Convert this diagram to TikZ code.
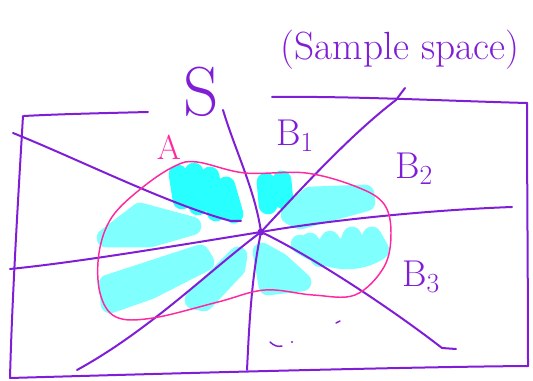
\documentclass[tikz,border=0pt]{standalone}
\usetikzlibrary{calc}
\definecolor{pen}{RGB}{128,30,215}
\definecolor{pinkpen}{RGB}{255,40,160}
\definecolor{hl}{RGB}{128,255,255}
\definecolor{hld}{RGB}{40,255,255}
\tikzset{
  penline/.style={draw=pen,line width=1.5pt,line cap=round,line join=round},
  pinkline/.style={draw=pinkpen,line width=1.1pt,line cap=round},
  blob/.style={draw=hl,fill=hl,line width=14pt,line cap=round,line join=round},
  blobs/.style={draw=hl,line width=14pt,line cap=round,line join=round},
  lbl/.style={text=pen,inner sep=0pt,font=\fontsize{28}{30}\selectfont},
}
\begin{document}
\begin{tikzpicture}[x=0.75pt,y=-0.75pt]
\useasboundingbox (0,0) rectangle (533,381);
% highlighter blobs
\draw[blobs,draw=hld] (178,174) -- (182,200) -- (194,172) -- (198,206) -- (210,176) -- (216,212) -- (226,186) -- (234,214) -- (222,206) -- (190,196);
\draw[blobs,draw=hld] (266,182) -- (268,205) -- (282,180) -- (284,200);
\draw[blob] (290,215) -- (310,196) -- (365,194) -- (366,202) -- (300,220) -- cycle;
\draw[blobs] (300,244) .. controls (330,264) and (360,264) .. (380,250) -- (372,236) -- (362,258) -- (352,236) -- (342,260) -- (330,240) -- (320,258) -- (310,242);
\draw[blob] (262,252) -- (268,286) -- (302,282) -- (280,262) -- cycle;
\draw[blob] (194,300) -- (238,256) -- (236,268) -- (204,302) -- cycle;
\draw[blob] (108,284) -- (200,254) -- (205,262) -- (150,290) -- (110,304) -- cycle;
\draw[blob] (106,238) -- (140,212) -- (192,226) -- (150,238) -- cycle;
% sample space frame
\draw[penline] (24,116) .. controls (60,114) and (110,113) .. (148,112);
\draw[penline] (23,116) .. controls (18,200) and (12,300) .. (10,378);
\draw[penline] (10,378) .. controls (150,374) and (400,367) .. (528,366);
\draw[penline] (528,366) .. controls (528,280) and (527,180) .. (527,103);
\draw[penline] (272,97) .. controls (350,96) and (450,101) .. (527,103);
% partition lines
\coordinate (c) at (261,232);
\coordinate (e1) at (13,133);
\coordinate (e2) at (223,110);
\coordinate (e3) at (405,88);
\coordinate (e4) at (512,207);
\coordinate (e5) at (456,349);
\coordinate (e6) at (247,370);
\coordinate (e7) at (77,370);
\coordinate (e8) at (10,269);
\draw[penline] (e1) .. controls (80,160) and (170,205) .. (231,221) -- (241,221);
\draw[penline] (e2) .. controls (235,150) and (255,190) .. (c);
\draw[penline] (e3) -- (396,100) .. controls (350,135) and (300,190) .. (c);
\draw[penline] (c) .. controls (330,220) and (430,210) .. (e4);
\draw[penline] (c) .. controls (300,250) and (380,300) .. (442,348) -- (e5);
\draw[penline] (c) .. controls (251,280) and (249,330) .. (e6);
\draw[penline] (c) .. controls (210,270) and (150,330) .. (e7);
\draw[penline] (c) .. controls (180,245) and (80,262) .. (e8);
\fill[pen] (c) circle (3.5);
% event A
\draw[pinkline] plot[smooth cycle,tension=0.6] coordinates {(197,162) (245,173) (306,173) (357,187) (384,204) (391,233) (384,267) (355,295) (313,295) (265,290) (218,302) (153,318) (116,317) (100,293) (99,253) (112,217) (143,187) (175,166)};
% labels
\node[lbl,font=\fontsize{29.5}{34}\selectfont] (samp) at (400,50) {(Sample space)};
\node[lbl,font=\fontsize{52}{56}\selectfont] (omega) at (201,92) {S};
\node[lbl,text=pinkpen,font=\fontsize{26}{30}\selectfont] (A) at (169,147) {A};
\node[lbl] (B1) at (295,136) {B$_1$};
\node[lbl] (B2) at (414,169) {B$_2$};
\node[lbl] (B3) at (421,277) {B$_3$};
% stray marks
\draw[penline,line width=1.1pt] (270,342) .. controls (274,346) and (278,347) .. (282,346);
\fill[pen] (292,342) circle (1.2);
\draw[penline,line width=1.1pt] (336,323) -- (340,321);
\end{tikzpicture}
\end{document}
